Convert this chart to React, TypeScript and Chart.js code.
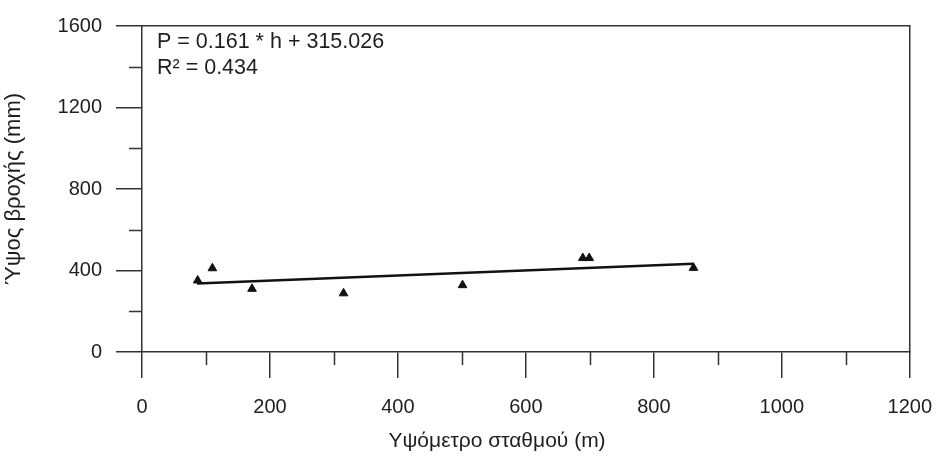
import React, { useEffect, useRef } from 'react';
import { Chart, registerables } from 'chart.js';

Chart.register(...registerables);

// ---- data ----
const stationAltitude = [87, 110, 172, 315, 501, 689, 699, 862];
const rainfallHeight = [351, 411, 310, 288, 328, 461, 461, 413];
const trendAltitude = [86, 862];
const trendRainfall = [336, 433];
const xMinorTicks = [100, 300, 500, 700, 900, 1100];
const yMinorTicks = [200, 600, 1000, 1400];
const xTitle = 'Υψόμετρο σταθμού (m)';
const yTitle = 'Ύψος βροχής (mm)';
const equationLines = ['P = 0.161 * h + 315.026', 'R\u00B2 = 0.434'];

const FONT = '"Liberation Sans", Arial, sans-serif';
const AXIS = '#333333';
const TEXT = '#1e1e1e';

const plainLabel = (v: any) => String(v);

const decorPlugin = {
  id: 'decor',
  afterDraw(chart: any) {
    const { ctx, chartArea, scales } = chart;
    const xs = scales.x;
    const ys = scales.y;
    ctx.save();
    ctx.strokeStyle = AXIS;
    ctx.lineWidth = 1.5;
    ctx.beginPath();
    xMinorTicks.forEach((v) => {
      const px = Math.round(xs.getPixelForValue(v)) + 0.5;
      ctx.moveTo(px, chartArea.bottom);
      ctx.lineTo(px, chartArea.bottom + 13);
    });
    yMinorTicks.forEach((v) => {
      const py = Math.round(ys.getPixelForValue(v)) + 0.5;
      ctx.moveTo(chartArea.left, py);
      ctx.lineTo(chartArea.left - 13, py);
    });
    ctx.stroke();

    ctx.fillStyle = TEXT;
    ctx.font = '21.5px ' + FONT;
    ctx.textAlign = 'left';
    ctx.textBaseline = 'middle';
    equationLines.forEach((t, i) => {
      ctx.fillText(t, chartArea.left + 15, chartArea.top + 16 + i * 26);
    });

    ctx.font = '21px ' + FONT;
    ctx.textAlign = 'center';
    ctx.fillText(xTitle, 497, 441);
    ctx.restore();
  },
};

export default function App() {
  const ref = useRef<HTMLCanvasElement | null>(null);

  useEffect(() => {
    if (!ref.current) return;
    const points = stationAltitude.map((x, i) => ({ x, y: rainfallHeight[i] }));
    const trend = trendAltitude.map((x, i) => ({ x, y: trendRainfall[i] }));
    const chart = new Chart(ref.current, {
      type: 'scatter',
      data: {
        datasets: [
          {
            label: 'trend',
            data: trend,
            showLine: true,
            borderColor: '#111',
            borderWidth: 2.5,
            pointRadius: 0,
            fill: false,
          },
          {
            label: 'stations',
            data: points,
            pointStyle: 'triangle',
            pointRadius: 5,
            backgroundColor: '#111',
            borderColor: '#111',
            borderWidth: 1,
          },
        ],
      },
      options: {
        animation: false,
        responsive: false,
        layout: { padding: 0 },
        plugins: { legend: { display: false }, tooltip: { enabled: false } },
        scales: {
          x: {
            type: 'linear',
            position: 'bottom',
            min: 0,
            max: 1200,
            ticks: { stepSize: 200, color: TEXT, font: { family: FONT, size: 20 }, padding: 17, callback: plainLabel },
            grid: { drawOnChartArea: false, drawTicks: true, tickLength: 26, color: AXIS, lineWidth: 1.5 },
            border: { display: true, color: AXIS, width: 1.5 },
            afterFit: (s: any) => { s.height = 106; },
          },
          y: {
            type: 'linear',
            position: 'left',
            min: 0,
            max: 1600,
            ticks: { stepSize: 400, color: TEXT, font: { family: FONT, size: 20 }, padding: 14, callback: plainLabel },
            grid: { drawOnChartArea: false, drawTicks: true, tickLength: 26, color: AXIS, lineWidth: 1.5 },
            border: { display: true, color: AXIS, width: 1.5 },
            title: { display: true, text: yTitle, color: TEXT, font: { family: FONT, size: 22 }, padding: { top: 1, bottom: 0 } },
            afterFit: (s: any) => { s.width = 142; },
          },
          x2: {
            type: 'linear',
            position: 'top',
            ticks: { display: false },
            grid: { display: false, drawTicks: false },
            border: { display: true, color: AXIS, width: 1.5 },
            afterFit: (s: any) => { s.height = 19; },
          },
          y2: {
            type: 'linear',
            position: 'right',
            ticks: { display: false },
            grid: { display: false, drawTicks: false },
            border: { display: true, color: AXIS, width: 1.5 },
            afterFit: (s: any) => { s.width = 32; },
          },
        },
      },
      plugins: [decorPlugin],
    });
    return () => chart.destroy();
  }, []);

  return (
    <div style={{ position: 'absolute', left: 0, top: 0, width: 949, height: 458, background: '#fff' }}>
      <canvas ref={ref} width={949} height={458} style={{ display: 'block' }} />
    </div>
  );
}
